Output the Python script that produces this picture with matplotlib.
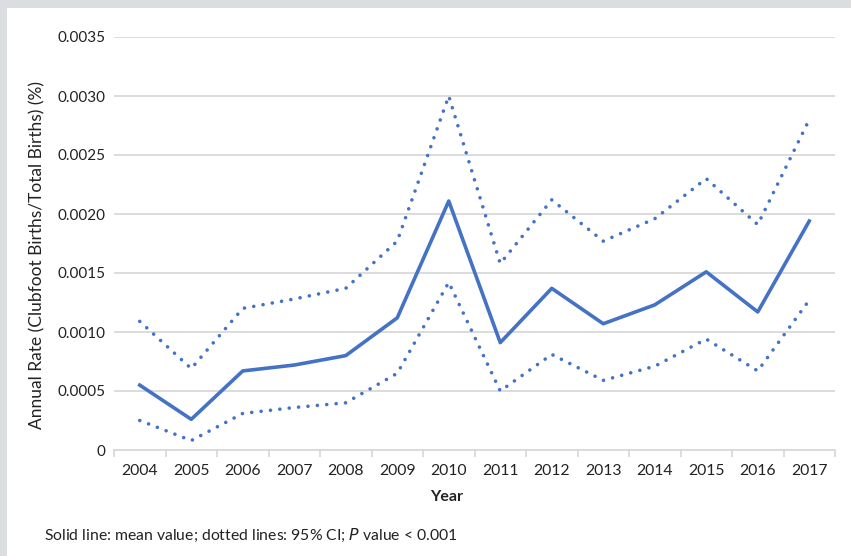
import matplotlib
matplotlib.use("Agg")
import matplotlib.pyplot as plt
from matplotlib.patches import Rectangle
from matplotlib.ticker import FixedLocator

years = ["2004", "2005", "2006", "2007", "2008", "2009", "2010",
         "2011", "2012", "2013", "2014", "2015", "2016", "2017"]
mean_rate = [0.00055, 0.00026, 0.00067, 0.00072, 0.00080, 0.00112, 0.00211,
             0.00091, 0.00137, 0.00107, 0.00123, 0.00151, 0.00117, 0.00194]
upper_ci = [0.00109, 0.00069, 0.00120, 0.00128, 0.00137, 0.00177, 0.00300,
            0.00158, 0.00212, 0.00177, 0.00196, 0.00230, 0.00191, 0.00280]
lower_ci = [0.00025, 0.00008, 0.00031, 0.00036, 0.00040, 0.00065, 0.00142,
            0.00050, 0.00081, 0.00059, 0.00071, 0.00094, 0.00067, 0.00127]
y_ticks = [0, 0.0005, 0.0010, 0.0015, 0.0020, 0.0025, 0.0030, 0.0035]
y_tick_labels = ["0", "0.0005", "0.0010", "0.0015", "0.0020", "0.0025", "0.0030", "0.0035"]

plt.rcParams["font.family"] = ["Lato", "DejaVu Sans"]

W, H = 851, 556
fig = plt.figure(figsize=(W / 100, H / 100), dpi=100)
fig.patch.set_facecolor("white")
# grey frame along the top and left edges
border = "#dcdde0"
fig.patches.append(Rectangle((0, 1 - 8 / H), 1, 8 / H, transform=fig.transFigure,
                             facecolor=border, edgecolor="none"))
fig.patches.append(Rectangle((0, 0), 7 / W, 1, transform=fig.transFigure,
                             facecolor=border, edgecolor="none"))

ax = fig.add_axes([114 / W, 1 - 450 / H, (835 - 114) / W, (450 - 37) / H])
ax.set_facecolor("none")

blue = "#4472c4"
text_col = "#222222"
x = list(range(len(years)))
ax.plot(x, upper_ci, color=blue, lw=2.6, linestyle=(0, (0.01, 2.6)),
        dash_capstyle="round", zorder=3)
ax.plot(x, lower_ci, color=blue, lw=2.6, linestyle=(0, (0.01, 2.6)),
        dash_capstyle="round", zorder=3)
ax.plot(x, mean_rate, color=blue, lw=2.6, solid_joinstyle="round", zorder=4)

ax.set_xlim(-0.5, len(years) - 0.5)
ax.set_ylim(0, 0.0035)

ax.set_yticks(y_ticks)
ax.set_yticklabels(y_tick_labels)
ax.yaxis.grid(True, color="#d9d9d9", lw=1.3)
ax.set_axisbelow(True)

ax.set_xticks(x)
ax.set_xticklabels(years)
ax.xaxis.set_minor_locator(FixedLocator([i - 0.5 for i in range(len(years) + 1)]))
ax.tick_params(axis="x", which="major", length=0, pad=10, labelsize=11.3, colors=text_col)
ax.tick_params(axis="x", which="minor", length=5, width=1.3, color="#d9d9d9")
ax.tick_params(axis="y", length=0, pad=6, labelsize=11, colors=text_col)

for side in ("top", "right", "left"):
    ax.spines[side].set_visible(False)
ax.spines["bottom"].set_color("#d9d9d9")
ax.spines["bottom"].set_linewidth(1.3)

fig.text(447 / W, 1 - 497 / H, "Year", fontweight="bold", fontsize=11.5,
         color=text_col, ha="center", va="center")
fig.text(37 / W, 1 - 255 / H, "Annual Rate (Clubfoot Births/Total Births) (%)",
         fontsize=12.5, color=text_col, rotation=90, ha="center", va="center")

fig.text(44 / W, 1 - 535 / H, "Solid line: mean value; dotted lines: 95% CI; $\\it{P}$ value < 0.001",
         fontsize=11.3, color=text_col, va="center", ha="left")

fig.savefig("out.png", dpi=100)
